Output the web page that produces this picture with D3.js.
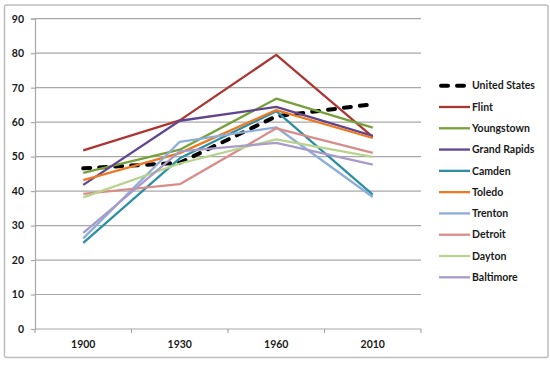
<!DOCTYPE html>
<html>
<head>
<meta charset="utf-8">
<script src="https://cdn.jsdelivr.net/npm/d3@7"></script>
<style>
  body { margin: 0; background: #fff; }
  text { font-family: Lato, "Open Sans", sans-serif; font-weight: bold; fill: #1a1a1a; }
</style>
</head>
<body>
<div id="chart"></div>
<script>
// data
const years = ["1900", "1930", "1960", "2010"];
const cities = ["United States", "Flint", "Youngstown", "Grand Rapids", "Camden",
                "Toledo", "Trenton", "Detroit", "Dayton", "Baltimore"];
const unitedStates = [46.6, 48.2, 61.7, 65.2];
const flint       = [51.8, 60.5, 79.5, 55.7];
const youngstown  = [45.3, 52.0, 66.8, 58.4];
const grandRapids = [41.8, 60.4, 64.4, 56.0];
const camden      = [25.0, 49.5, 63.2, 39.0];
const toledo      = [43.2, 51.0, 63.5, 55.4];
const trenton     = [26.3, 54.3, 58.5, 38.3];
const detroit     = [39.2, 42.0, 58.2, 51.1];
const dayton      = [38.2, 48.0, 55.0, 49.9];
const baltimore   = [27.9, 51.5, 54.0, 47.7];
const yTicks = [0, 10, 20, 30, 40, 50, 60, 70, 80, 90];

const seriesValues = [unitedStates, flint, youngstown, grandRapids, camden,
                      toledo, trenton, detroit, dayton, baltimore];
const colors = ["#000000", "#aa3733", "#77a03a", "#60468f", "#2e8fa4",
                "#ec7a22", "#8daed8", "#d88d8a", "#b8d38d", "#a99bc8"];

const W = 550, H = 366;
const margin = { top: 18.7, left: 35, right: 129, bottom: 37 };

const svg = d3.select("#chart").append("svg")
    .attr("width", W)
    .attr("height", H);

// chart border
svg.append("rect")
    .attr("x", 4.5).attr("y", 5)
    .attr("width", 543.5).attr("height", 352.5)
    .attr("rx", 2)
    .attr("fill", "#fff")
    .attr("stroke", "#bdbdbd")
    .attr("stroke-width", 1.5);

const x = d3.scaleBand()
    .domain(years)
    .range([margin.left, W - margin.right]);
const y = d3.scaleLinear()
    .domain([0, 90])
    .range([H - margin.bottom, margin.top]);
const cx = d => x(d) + x.bandwidth() / 2;

// gridlines
svg.append("g")
    .selectAll("line")
    .data(yTicks.filter(t => t > 0))
    .join("line")
    .attr("x1", margin.left).attr("x2", W - margin.right)
    .attr("y1", d => y(d)).attr("y2", d => y(d))
    .attr("stroke", "#a8a8a8")
    .attr("stroke-width", 1.2);

// y axis
const yAxis = svg.append("g")
    .attr("transform", `translate(${margin.left},0)`)
    .call(d3.axisLeft(y).tickValues(yTicks).tickSize(4).tickPadding(7));
yAxis.select(".domain").attr("stroke", "#a8a8a8").attr("stroke-width", 1.2);
yAxis.selectAll(".tick line").attr("stroke", "#a8a8a8").attr("stroke-width", 1.2);
yAxis.selectAll(".tick text").attr("font-size", "10.5px");

// x axis
const xAxis = svg.append("g")
    .attr("transform", `translate(0,${y(0)})`)
    .call(d3.axisBottom(x).tickSize(0).tickPadding(12));
xAxis.select(".domain").remove();
xAxis.selectAll(".tick text").attr("font-size", "10.5px");
xAxis.append("line")
    .attr("x1", margin.left).attr("x2", W - margin.right)
    .attr("stroke", "#a8a8a8").attr("stroke-width", 1.2);
xAxis.selectAll(".bound")
    .data(years.concat(["end"]))
    .join("line")
    .attr("x1", (d, i) => margin.left + i * x.bandwidth())
    .attr("x2", (d, i) => margin.left + i * x.bandwidth())
    .attr("y1", 0).attr("y2", 4)
    .attr("stroke", "#a8a8a8").attr("stroke-width", 1.2);

// lines
const line = d3.line()
    .x((d, i) => cx(years[i]))
    .y(d => y(d));

svg.append("g")
    .selectAll("path")
    .data(seriesValues)
    .join("path")
    .attr("d", line)
    .attr("fill", "none")
    .attr("stroke", (d, i) => colors[i])
    .attr("stroke-width", (d, i) => i === 0 ? 4 : 2.3)
    .attr("stroke-dasharray", (d, i) => i === 0 ? "7,9" : null)
    .attr("stroke-linecap", (d, i) => i === 0 ? "round" : "butt")
    .attr("stroke-linejoin", "round");

// legend
const ly = d3.scalePoint()
    .domain(cities)
    .range([85.7, 277.3]);
const legend = svg.append("g")
    .selectAll("g")
    .data(cities)
    .join("g")
    .attr("transform", d => `translate(439,${ly(d)})`);
legend.append("line")
    .attr("x1", (d, i) => i === 0 ? 2 : 0)
    .attr("x2", (d, i) => i === 0 ? 29 : 31)
    .attr("stroke", (d, i) => colors[i])
    .attr("stroke-width", (d, i) => i === 0 ? 4 : 2.3)
    .attr("stroke-dasharray", (d, i) => i === 0 ? "7,9" : null)
    .attr("stroke-linecap", (d, i) => i === 0 ? "round" : "butt");
legend.append("text")
    .attr("x", 33)
    .attr("dy", "0.35em")
    .attr("font-size", "10.5px")
    .text(d => d);
</script>
</body>
</html>
